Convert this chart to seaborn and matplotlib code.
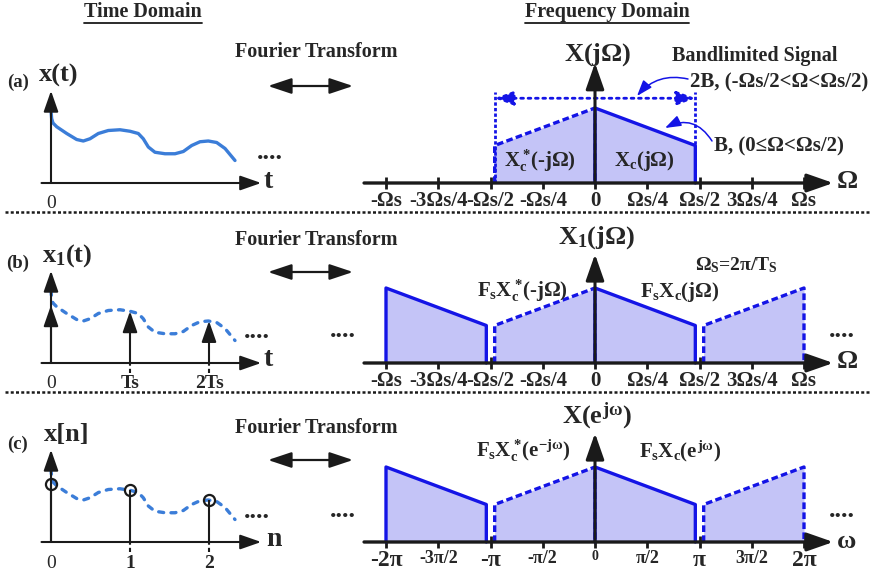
## Sampling diagram: time domain vs frequency domain.
import numpy as np
import matplotlib.pyplot as plt
import seaborn as sns

# continuous-time signal, t in units of Ts
t_curve = [0.000, 0.008, 0.025, 0.072, 0.199, 0.325, 0.409, 0.494, 0.599, 0.725, 0.873,
           1.000, 1.105, 1.168, 1.232, 1.316, 1.443, 1.570, 1.675, 1.781, 1.886, 1.991,
           2.097, 2.203, 2.329]
x_curve = [0.97, 0.86, 0.80, 0.75, 0.66, 0.58, 0.56, 0.59, 0.66, 0.70, 0.71,
           0.69, 0.66, 0.59, 0.48, 0.41, 0.39, 0.39, 0.42, 0.50, 0.55, 0.56,
           0.54, 0.46, 0.30]
sample_t = [0, 1, 2]
sample_x = [0.77, 0.69, 0.56]
sample_labels_b = ['0', 'Ts', '2Ts']
sample_labels_c = ['0', '1', '2']

# spectrum, frequency in units of Omega_s
band_f = [0.0, 0.48]
band_mag = [1.0, 0.5]
band_top = 1.21
copies = [-1, 0, 1]
freq_ticks = [-1, -0.75, -0.5, -0.25, 0, 0.25, 0.5, 0.75, 1]
omega_labels = ['-Ωs', '-3Ωs/4', '-Ωs/2', '-Ωs/4', '0', 'Ωs/4', 'Ωs/2', '3Ωs/4', 'Ωs']
digital_labels = ['-2π', '-3π/2', '-π', '-π/2', '0', 'π/2', 'π', '3π/2', '2π']
digital_sizes = [17, 13, 17, 13, 10, 13, 17, 13, 17]

sns.set_theme(style='white')
plt.rcParams['font.family'] = ['Liberation Serif', 'DejaVu Serif']
plt.rcParams['font.weight'] = 'bold'
plt.rcParams['mathtext.fontset'] = 'custom'
plt.rcParams['mathtext.rm'] = 'Liberation Serif:bold'
plt.rcParams['mathtext.it'] = 'Liberation Serif:bold'
plt.rcParams['mathtext.bf'] = 'Liberation Serif:bold'

CURVE = '#3b7dd8'
BLUE = '#1414e6'
FILL = '#c4c4f7'

W, H = 876, 578
fig = plt.figure(figsize=(W / 100, H / 100), dpi=100)
fig.patch.set_facecolor('white')


def panel(x0, y0, sx, sy, box):
    """Axes placed by pixel box, origin (x0, y0) in pixels, sx/sy pixels per unit."""
    l, t, r, b = box
    ax = fig.add_axes([l / W, 1 - b / H, (r - l) / W, (b - t) / H])
    ax.set_xlim((l - x0) / sx, (r - x0) / sx)
    ax.set_ylim((y0 - b) / sy, (y0 - t) / sy)
    ax.patch.set_alpha(0)
    for s in ax.spines.values():
        s.set_visible(False)
    ax.spines['bottom'].set_position(('data', 0))
    ax.set_yticks([])
    ax.grid(False)
    return ax


def arrow(ax, p0, p1, lw=1.5, scale=16, color='k', ls='-',
          style='-|>,head_length=0.8,head_width=0.28', rad=0.0, z=5):
    ax.annotate('', xy=p1, xytext=p0, zorder=z,
                arrowprops=dict(arrowstyle=style, lw=lw, color=color, ls=ls,
                                mutation_scale=scale, shrinkA=0, shrinkB=0,
                                connectionstyle=f'arc3,rad={rad}'))


ROW_Y = [183, 363, 542]

# ---- time domain panels
for i, y0 in enumerate(ROW_Y):
    ax = panel(51, y0, 79, 75, (20, y0 - 110, 300, y0 + 30))
    arrow(ax, (-0.12, 0), (2.66, 0))
    arrow(ax, (0, 0), (0, 1.23))
    line_ls = '-' if i == 0 else (0, (1.5, 2.2))
    sns.lineplot(x=t_curve, y=x_curve, ax=ax, color=CURVE, lw=2.4, sort=False,
                 estimator=None, linestyle=line_ls, dash_capstyle='round',
                 solid_capstyle='round')
    if i == 0:
        ax.set_xticks([0], ['0'])
    else:
        labels = sample_labels_b if i == 1 else sample_labels_c
        ax.set_xticks(sample_t, labels)
        ax.vlines(sample_t[1:], -0.13, 0, color='k', lw=1.5, linestyles=(0, (2, 1.5)))
        if i == 1:
            for tt, xx in zip(sample_t, sample_x):
                arrow(ax, (tt, 0), (tt, xx), lw=1.5, scale=16)
        else:
            ax.vlines(sample_t, 0, sample_x, color='k', lw=1.5, zorder=4)
            ax.plot(sample_t, sample_x, 'o', mfc='none', mec='k', ms=8, mew=1.6, zorder=6)
    ax.tick_params(axis='x', bottom=True, length=0, pad=9, labelsize=14)
    for lab in ax.get_xticklabels():
        if lab.get_text() == '0':
            lab.set_fontweight('normal')

# ---- frequency domain panels
for i, y0 in enumerate(ROW_Y):
    ax = panel(595, y0, 209, 75, (325, y0 - 150, 876, y0 + 30))
    f_half = np.array(band_f)
    m_half = np.array(band_mag)
    shifts = [0] if i == 0 else copies
    for k in shifts:
        # right half (solid): X_c
        if k + f_half[-1] <= 1.0:
            xs = np.r_[k, k + f_half, k + f_half[-1]]
            ys = np.r_[0, m_half, 0]
            ax.fill_between(xs, ys, color=FILL, lw=0, zorder=1)
            sns.lineplot(x=xs, y=ys, ax=ax, color=BLUE, lw=2.4, sort=False,
                         estimator=None, zorder=3)
        # left half (dashed): conjugate mirror
        if k - f_half[-1] >= -1.0:
            xs = np.r_[k - f_half[-1], k - f_half[::-1], k]
            ys = np.r_[0, m_half[::-1], 0]
            ax.fill_between(xs, ys, color=FILL, lw=0, zorder=1)
            sns.lineplot(x=xs, y=ys, ax=ax, color=BLUE, lw=2.4, sort=False,
                         estimator=None, linestyle=(0, (2.0, 1.0)), zorder=3)
    if i == 0:
        ax.vlines([-band_f[-1], band_f[-1]], 0, band_top, color=BLUE, lw=2,
                  linestyles=(0, (1.2, 0.8)), zorder=3)
        arrow(ax, (-band_f[-1], 1.13), (band_f[-1], 1.13), lw=2, color=BLUE, ls=':',
              style='<|-|>,head_length=0.8,head_width=0.3', scale=14)
    y_top = 1.6 if i == 0 else 1.45
    arrow(ax, (-1.105, 0), (1.14, 0), lw=2.4, scale=20)
    arrow(ax, (0, 0), (0, y_top), lw=2.2, scale=20)
    labels = digital_labels if i == 2 else omega_labels
    ax.set_xticks(freq_ticks, labels)
    ax.tick_params(axis='x', bottom=True, direction='inout', length=8, width=2,
                   color='k', pad=2, labelsize=15)
    if i == 2:
        for lab, fs in zip(ax.get_xticklabels(), digital_sizes):
            lab.set_fontsize(fs)

# ---- overlay for text, dividers and annotation arrows
top = fig.add_axes([0, 0, 1, 1])
top.set_xlim(0, W)
top.set_ylim(H, 0)
top.axis('off')
top.patch.set_alpha(0)
top.set_zorder(10)

heads = [top.text(143, 12, 'Time Domain', fontsize=14.5, ha='center', va='center'),
         top.text(607, 12, 'Frequency Domain', fontsize=14.5, ha='center', va='center')]

for yy in [212, 392]:
    top.plot([5, 871], [yy, yy], color='k', lw=1.8, ls=(0, (1.2, 0.9)))

for yt, ya in zip([52, 240, 428], [86, 272, 460]):
    top.text(316, yt, 'Fourier Transform', fontsize=14.5, ha='center', va='center')
    arrow(top, (268, ya), (353, ya), lw=1.6, scale=16,
          style='<|-|>,head_length=0.9,head_width=0.3')

for lab, yy in zip(['(a)', '(b)', '(c)'], [82, 263, 444]):
    top.text(18, yy, lab, fontsize=13.5, ha='center', va='center')
for lab, xx, yy in zip(['x(t)', r'$x_1$(t)', 'x[n]'], [59, 67, 67], [75, 256, 435]):
    top.text(xx, yy, lab, fontsize=19, ha='center', va='center')
for lab, xx, yy in zip(['t', 't', 'n'], [268, 268, 274], [181, 360, 540]):
    top.text(xx, yy, lab, fontsize=20, ha='center', va='center')
for xx, yy in [(270, 159), (257, 338), (257, 518), (343, 337), (842, 337), (343, 517), (842, 517)]:
    top.text(xx, yy, '....', fontsize=19, ha='center', va='baseline')

top.text(598, 55, r'X(j$\Omega$)', fontsize=19, ha='center', va='center')
top.text(597, 238, r'$X_1$(j$\Omega$)', fontsize=19, ha='center', va='center')
top.text(597, 416, r'X($e^{j\omega}$)', fontsize=19, ha='center', va='center')
for lab, yy in zip(['Ω', 'Ω', 'ω'], [181, 361, 542]):
    top.text(847, yy, lab, fontsize=19, ha='center', va='center')

top.text(755, 56, 'Bandlimited Signal', fontsize=14.5, ha='center', va='center')
top.text(690, 82, '2B, (-Ωs/2<Ω<Ωs/2)', fontsize=15, ha='left', va='center')
top.text(714, 146, 'B, (0≤Ω<Ωs/2)', fontsize=15, ha='left', va='center')
arrow(top, (688, 79), (637, 96), lw=1.1, color=BLUE, scale=12, rad=0.3)
arrow(top, (712, 141), (665, 128), lw=1.1, color=BLUE, scale=12, rad=0.45)

top.text(540, 161, r'$X^*_c\!$(-j$\Omega$)', fontsize=15, ha='center', va='center')
top.text(644, 161, r'$X_c$(j$\Omega$)', fontsize=15, ha='center', va='center')
top.text(736, 265, r'$\Omega_S$=2π/$T_S$', fontsize=14, ha='center', va='center')
top.text(522, 291, r'$F_sX^*_c\!$(-j$\Omega$)', fontsize=15, ha='center', va='center')
top.text(680, 292, r'$F_sX_c$(j$\Omega$)', fontsize=15, ha='center', va='center')
top.text(523, 451, r'$F_sX^*_c\!(e^{-j\omega})$', fontsize=15, ha='center', va='center')
top.text(680, 451, r'$F_sX_c(e^{j\omega})$', fontsize=15, ha='center', va='center')

# underline the two headers (same line height for both)
fig.canvas.draw()
rend = fig.canvas.get_renderer()
inv = top.transData.inverted()
base_y = inv.transform((0, heads[0].get_window_extent(rend).y0))[1] + 1
for h in heads:
    bb = h.get_window_extent(rend)
    x0 = inv.transform((bb.x0, 0))[0]
    x1 = inv.transform((bb.x1, 0))[0]
    top.plot([x0, x1], [base_y, base_y], color='k', lw=1.3)

plt.savefig('out.png', dpi=100)
